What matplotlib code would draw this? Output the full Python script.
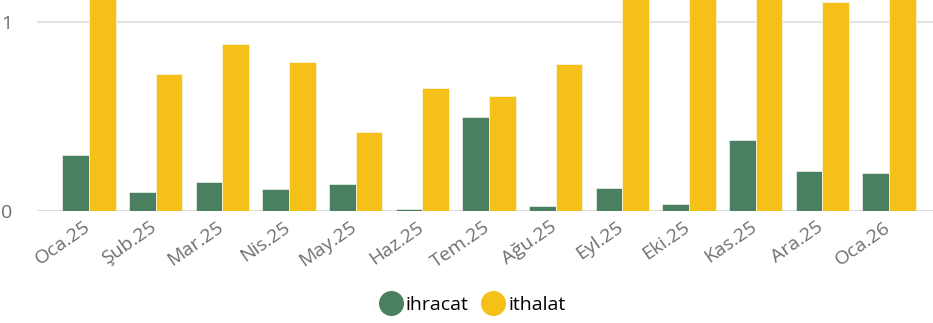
import matplotlib
matplotlib.use("Agg")
import matplotlib.pyplot as plt
import matplotlib.transforms as mtransforms
import numpy as np
from matplotlib.lines import Line2D

categories = ["Oca.25", "Şub.25", "Mar.25", "Nis.25", "May.25", "Haz.25", "Tem.25",
              "Ağu.25", "Eyl.25", "Eki.25", "Kas.25", "Ara.25", "Oca.26"]
ihracat = [0.295, 0.10, 0.153, 0.118, 0.143, 0.011, 0.497, 0.025, 0.122, 0.035, 0.376, 0.212, 0.203]
ithalat = [1.30, 0.725, 0.882, 0.787, 0.418, 0.651, 0.610, 0.776, 1.25, 1.40, 1.35, 1.104, 1.20]
yticks = [0, 1]

green = "#4A7F5F"
yellow = "#F5C018"

plt.rcParams['font.family'] = ['Open Sans', 'DejaVu Sans']

fig = plt.figure(figsize=(9.33, 3.23), dpi=100)
ax = fig.add_axes([0.0397, 0.3467, 0.9603, 0.6533])

x = np.arange(len(categories))
w = 0.4
ax.bar(x - w/2, ihracat, w, color=green, edgecolor="white", linewidth=0.4, zorder=3)
ax.bar(x + w/2, ithalat, w, color=yellow, edgecolor="white", linewidth=0.4, zorder=3)

ax.set_ylim(0, 1.116)
ax.set_xlim(-0.78, 12.66)
ax.set_yticks(yticks)
ax.set_yticklabels([str(t) for t in yticks])
ax.yaxis.grid(True, color="#e3e3e3", linewidth=1.5, zorder=0)
ax.axhline(0, color="#dcdcdc", linewidth=2, zorder=2)
for s in ax.spines.values():
    s.set_visible(False)
ax.tick_params(axis='both', length=0, colors="#707070", labelsize=14)
ax.tick_params(axis='y', pad=18)
ax.set_xticks(x)
ax.set_xticklabels(categories, rotation=35, ha='right', rotation_mode='anchor')
ax.tick_params(axis='x', pad=5)
offset = mtransforms.ScaledTranslation(-6/100, 0, fig.dpi_scale_trans)
for lbl in ax.get_xticklabels():
    lbl.set_transform(lbl.get_transform() + offset)

handles = [Line2D([], [], marker='o', linestyle='none', markersize=17, color=green, label='ihracat'),
           Line2D([], [], marker='o', linestyle='none', markersize=17, color=yellow, label='ithalat')]
fig.legend(handles=handles, loc='center', bbox_to_anchor=(0.505, 0.055), ncol=2, frameon=False,
           fontsize=14, handletextpad=0.05, columnspacing=0.6, handlelength=1.4)

fig.savefig("out.png", dpi=100)
